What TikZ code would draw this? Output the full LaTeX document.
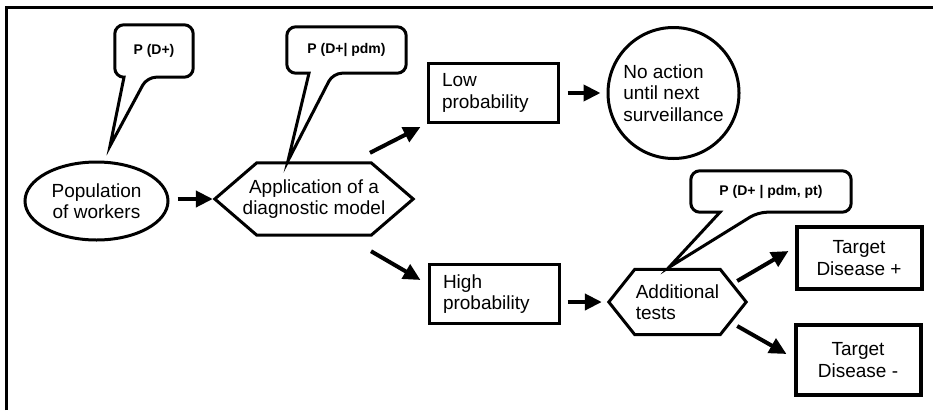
\documentclass[tikz,border=0pt]{standalone}
\usepackage{fontspec}
\setmainfont{Liberation Sans}
\usetikzlibrary{arrows.meta,calc,shapes.geometric}

\begin{document}
\begin{tikzpicture}[x=1pt, y=-1pt,
    every node/.style={font=\fontsize{19}{21.5}\selectfont, inner sep=0pt},
    oval/.style={draw, ellipse, line width=3pt, align=center},
    hexbox/.style={minimum width=#1, align=center},
    hexline/.style={line width=3pt},
    probbox/.style={draw, line width=3pt, minimum width=130pt, minimum height=59pt, text width=102pt, align=left},
    wait/.style={draw, circle, line width=3pt, minimum size=131pt, align=left},
    outbox/.style={draw, line width=4pt, minimum width=125pt, align=center},
    bubble/.style={font=\fontsize{14}{16}\selectfont\bfseries},
    balloon/.style={line width=3pt},
    arr/.style={line width=4pt, -{Triangle[length=17pt,width=16pt]}}]
  \useasboundingbox (0,0) rectangle (933,410);
  % frame
  \draw[line width=3pt] (6,410) -- (6,7) -- (933,7);

  % flow
  \node[oval, minimum width=143pt, minimum height=78pt] (pop) at (96.5,201) {Population\\of workers};
  \node[hexbox=198pt, minimum height=72pt] (model) at (314,199) {Application of a\\diagnostic model};
  \draw[hexline] (model.west) -- ($(model.north west)+(42,0)$) -- ($(model.north east)+(-42,0)$) -- (model.east)
    -- ($(model.south east)+(-42,0)$) -- ($(model.south west)+(42,0)$) -- cycle;
  \node[probbox] (low) at (493,93) {Low\\probability};
  \node[probbox] (high) at (494,294) {High\\probability};
  \node[wait] (noact) at (673.5,93) {No action\\until next\\surveillance};
  \node[hexbox=137pt, minimum height=65pt, align=left] (tests) at (677.5,302) {Additional\\tests};
  \draw[hexline] (tests.west) -- ($(tests.north west)+(26,0)$) -- ($(tests.north east)+(-26,0)$) -- (tests.east)
    -- ($(tests.south east)+(-26,0)$) -- ($(tests.south west)+(26,0)$) -- cycle;
  \node[outbox, minimum height=62pt] (tdpos) at (859,258) {Target\\Disease +};
  \node[outbox, minimum height=70pt] (tdneg) at (858,360) {Target\\Disease -};

  \draw[arr] ($(pop.east |- model.west)+(8,0)$) -- ($(model.west)+(-2,0)$);
  \draw[arr] ($(model.north)+(56,-10)$) -- ($(low.south west)+(-6,3)$);
  \draw[arr] ($(model.south)+(57,16)$) -- ($(high.west)+(-7,-14)$);
  \draw[arr, shorten <=8pt, shorten >=6pt] (low.east) -- (noact.west);
  \draw[arr] ($(high.east |- tests.west)+(7,0)$) -- ($(tests.west)+(-7,0)$);
  \draw[arr] ($(tests.east)+(-9,-21)$) -- ($(tdpos.west)+(-6,-7)$);
  \draw[arr] ($(tests.east)+(-9,24)$) -- ($(tdneg.west)+(-7,-6)$);

  % probability balloons
  \node[bubble, minimum width=78pt, minimum height=52pt] (pD) at (154,51) {P (D+)};
  \node[bubble, minimum width=119pt, minimum height=46pt] (pDpdm) at (346.5,50) {P (D+| pdm)};
  \node[bubble, minimum width=160pt, minimum height=41pt] (pDpt) at (771,191.5) {P (D+ | pdm, pt)};
  \coordinate (tipD) at (110,146);
  \coordinate (tipDpdm) at ($(model.north)+(-26,-2)$);
  \coordinate (tipDpt) at ($(tests.north)+(-8.5,-2)$);

  \draw[balloon] ($(pD.south)+(-30,0)$) [rounded corners=9pt] -- (pD.south west) -- (pD.north west)
    -- (pD.north east) -- (pD.south east) -- ($(pD.south)+(-7,0)$) [sharp corners] -- (tipD) -- cycle;
  \draw[balloon] ($(pDpdm.south)+(-37.5,0)$) [rounded corners=9pt] -- (pDpdm.south west) -- (pDpdm.north west)
    -- (pDpdm.north east) -- (pDpdm.south east) -- ($(pDpdm.south)+(-13.5,0)$) [sharp corners] -- (tipDpdm) -- cycle;
  \draw[balloon] ($(pDpt.south)+(-51,0)$) [rounded corners=9pt] -- (pDpt.south west) -- (pDpt.north west)
    -- (pDpt.north east) -- (pDpt.south east) -- ($(pDpt.south)+(-13,0)$) [sharp corners] -- (tipDpt) -- cycle;
\end{tikzpicture}
\end{document}
